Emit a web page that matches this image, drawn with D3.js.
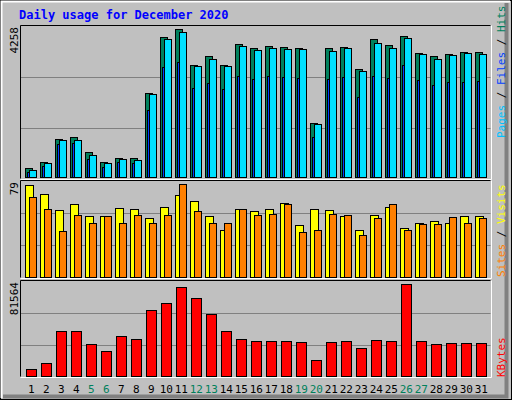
<!DOCTYPE html>
<html><head><meta charset="utf-8">
<script src="https://cdn.jsdelivr.net/npm/d3@7"></script>
<style>body{margin:0;background:#fff}svg{display:block}</style></head>
<body><svg id="c" width="512" height="400"></svg>
<script>
const days = d3.range(1,32);
const weekend = [5,6,12,13,19,20,26,27];
const hits = [259,432,1093,1151,719,432,547,547,2417,4028,4258,3222,3481,3222,3826,3711,3769,3740,3711,1554,3711,3740,3107,3970,3798,4057,3567,3481,3539,3596,3596];
const files = [201,403,1064,1064,633,403,518,489,2388,3970,4172,3193,3395,3193,3769,3654,3711,3683,3683,1525,3625,3711,3050,3855,3711,3999,3539,3395,3510,3567,3539];
const pages = [144,316,949,978,518,288,432,403,1928,3165,3309,2561,2704,2532,2906,2820,2906,2877,2848,1151,2820,2877,2302,2906,2848,3222,2791,2647,2733,2733,2762];
const visits = [78,71,57,62,52,52,59,58,50,60,70,65,52,40,58,56,58,63,44,58,57,52,40,53,60,42,46,48,46,52,52];
const sites = [68,58,39,53,46,52,46,53,46,53,79,56,46,46,58,53,54,62,38,40,54,53,36,50,62,40,45,45,51,46,50];
const kbytes = [5656,11015,39594,39594,27984,21732,35128,32449,58349,64601,78890,69066,54777,39594,32449,30663,30663,30663,29770,13694,29770,30663,24411,31556,30663,81564,30663,27984,28877,28877,28877];
const maxHits = 4258, maxVisits = 79, maxKB = 81564;

const svg = d3.select("#c");
const F = "DejaVu Sans Mono, monospace";
// frame
svg.append("rect").attr("x",0.5).attr("y",0.5).attr("width",511).attr("height",399).attr("fill","#c0c0c0").attr("stroke","#000");
svg.append("path").attr("d","M1.5,398V1.5H510").attr("stroke","#fff").attr("stroke-width",2).attr("fill","none");
svg.append("path").attr("d","M3,396.5H506.5V3").attr("stroke","#808080").attr("stroke-width",4).attr("fill","none");
svg.append("text").attr("x",19).attr("y",19).attr("font-family",F).attr("font-weight","bold").attr("font-size",12).attr("fill","#0000ff").text("Daily usage for December 2020");

const x = d3.scaleBand().domain(days).range([23.3,488.3]).paddingInner(0).paddingOuter(0);
const L=20.5,R=490.5;
const panels = [{t:25.5,b:178.5},{t:180.5,b:277.5},{t:280.5,b:376.5}];
panels.forEach(p=>{
  svg.append("rect").attr("x",L).attr("y",p.t).attr("width",R-L).attr("height",p.b-p.t).attr("fill","#c0c0c0");
  const h=p.b-p.t;
  [1,2].forEach(k=>svg.append("line").attr("x1",L).attr("x2",R).attr("y1",Math.round(p.t+h*k/3)+0.5).attr("y2",Math.round(p.t+h*k/3)+0.5).attr("stroke","#808080"));
  svg.append("path").attr("d",`M${L},${p.b}V${p.t}H${R}`).attr("stroke","#000").attr("fill","none");
  svg.append("path").attr("d",`M${L},${p.b+1}H${R+1}V${p.t}`).attr("stroke","#fff").attr("fill","none");
});
const y1 = d3.scaleLinear().domain([0,maxHits]).range([177,29]);
const y2 = d3.scaleLinear().domain([0,maxVisits]).range([276.7,184.3]);
const y3 = d3.scaleLinear().domain([0,maxKB]).range([375.7,284.3]);
function bars(data,y,off,w,color){
  svg.append("g").selectAll("rect").data(data).join("rect")
    .attr("x",(d,i)=>Math.round(x(days[i])+off)+0.5).attr("width",w)
    .attr("y",d=>Math.round(y(d))+0.5).attr("height",d=>Math.max(0,Math.round(y(0))-Math.round(y(d))))
    .attr("fill",color).attr("stroke","#000");
}
bars(hits,y1,2,7,"#00805c");
bars(files,y1,6,7,"#00e0ff");
bars(pages,y1,4,2,"#0040ff");
bars(visits,y2,2,8,"#ffff00");
bars(sites,y2,6,7,"#ff8000");
bars(kbytes,y3,3,10,"#ff0000");

// axis labels
function vlab(txt,xx,yy){svg.append("text").attr("transform",`translate(${xx},${yy}) rotate(-90)`).attr("text-anchor","end").attr("font-family",F).attr("font-size",11).attr("fill","#000").text(txt);}
vlab(String(maxHits),18,27);
vlab(String(maxVisits),18,182);
vlab(String(maxKB),18,282);
function rlab(parts,xx,yy){const t=svg.append("text").attr("transform",`translate(${xx},${yy}) rotate(-90)`).attr("text-anchor","start").attr("font-family",F).attr("font-size",11);
  parts.forEach(p=>t.append("tspan").attr("fill",p[1]).text(p[0]));}
rlab([["Pages","#00c0ff"],[" / ","#000"],["Files","#0040ff"],[" / ","#000"],["Hits","#00805c"]],505,138);
rlab([["Sites","#ff8000"],[" / ","#000"],["Visits","#ffff00"]],505,277);
rlab([["KBytes","#ff0000"]],505,377);
svg.append("g").selectAll("text").data(days).join("text")
  .attr("x",d=>x(d)+8).attr("y",393).attr("text-anchor","middle").attr("font-family",F).attr("font-size",11)
  .attr("fill",d=>weekend.includes(d)?"#00805c":"#000").text(d=>d);
</script></body></html>
